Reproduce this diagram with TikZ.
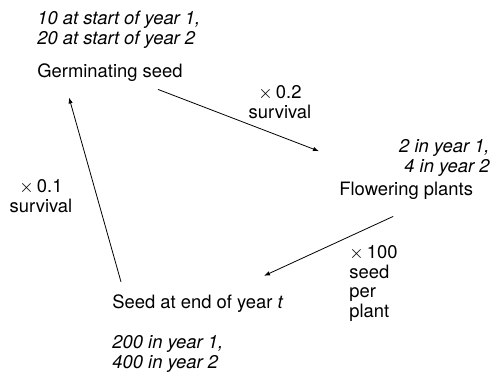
\documentclass[tikz,border=0pt]{standalone}
\usepackage{fontspec}
\setmainfont{TeX Gyre Heros}
\usetikzlibrary{arrows.meta,calc}
\newcommand\labfont{\fontsize{9.2}{9.7}\selectfont}
\tikzset{
  stage/.style={inner sep=0pt,anchor=base west,font=\labfont},
  count/.style={inner sep=0pt,align=left,anchor=base west,font=\labfont\itshape},
  rate/.style={inner sep=0pt,align=center,anchor=base,font=\labfont},
  flow/.style={-{Latex[length=3pt,width=2.2pt]},line width=0.4pt},
}

\begin{document}
\begin{tikzpicture}[x=0.5pt,y=-0.5pt]
  \useasboundingbox (0,0) rectangle (500,371);
  % stages of the life cycle
  \node[stage] (germ) at (37,77) {Germinating seed};
  \node[stage] (flower) at (339,195) {Flowering plants};
  \node[stage] (seedend) at (112,308) {Seed at end of year \textit{t}};
  % numbers per year (base = last line)
  \node[count] (germcount) at (37,44) {10 at start of year 1,\\20 at start of year 2};
  \node[count,align=right,anchor=base east] (flowercount) at (490,172) {2 in year 1,\\4 in year 2};
  \node[count] (seedcount) at (112,368) {200 in year 1,\\400 in year 2};
  % rates
  \node[rate] (surv1) at (280,118) {$\times$\,0.2\\survival};
  \node[rate] (surv2) at (41,212) {$\times$\,0.1\\survival};
  \node[rate,align=left,anchor=base west] (yield) at (349,317) {$\times$\,100\\seed\\per\\plant};
  \draw[flow] ($(germ.south)+(48,8)$) -- ($(flower.north west)+(-20,-30)$);
  \draw[flow] ($(flower.south)+(-13,17)$) -- ($(seedend.north)+(66,-18)$);
  \draw[flow] ($(seedend.north west)+(9,-12)$) -- ($(germ.south west)+(32,16)$);
\end{tikzpicture}
\end{document}
